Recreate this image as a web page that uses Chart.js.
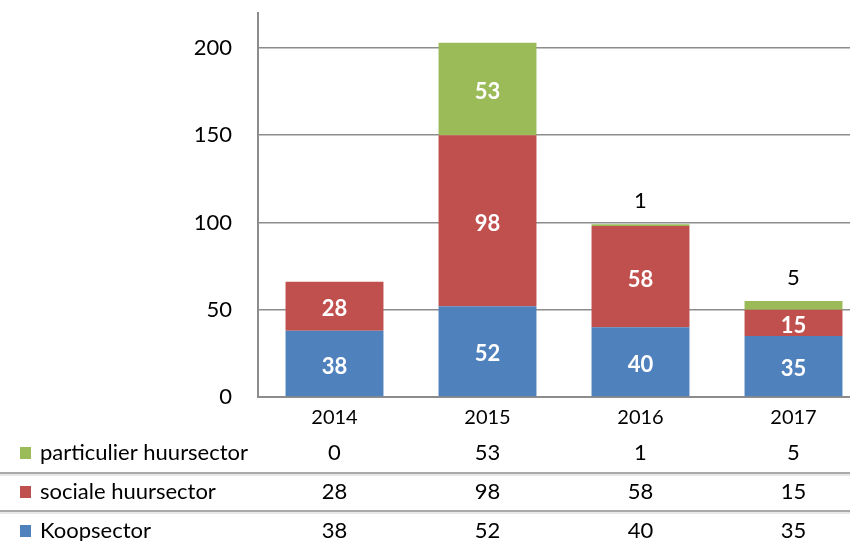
<!DOCTYPE html>
<html>
<head>
<meta charset="utf-8">
<script src="https://cdn.jsdelivr.net/npm/chart.js@4"></script>
<style>
  html, body { margin: 0; padding: 0; background: #fff; overflow: hidden; }
  #wrap { width: 870px; height: 541px; }
</style>
</head>
<body>
<div id="wrap"><canvas id="chart"></canvas></div>
<script>
const years = ['2014', '2015', '2016', '2017'];
const koopsector = [38, 52, 40, 35];
const socialeHuur = [28, 98, 58, 15];
const particulierHuur = [0, 53, 1, 5];

const seriesNames = ['Koopsector', 'sociale huursector', 'particulier huursector'];
const seriesColors = ['#4f81bd', '#c0504d', '#9bbb59'];

const fontFamily = 'Lato, "Open Sans", sans-serif';
const gridColor = '#8c8c8c';

// labels on the bars: white inside, black above for tiny segments
const barLabels = {
  id: 'barLabels',
  afterDatasetsDraw(chart) {
    const ctx = chart.ctx;
    ctx.save();
    ctx.textAlign = 'center';
    ctx.textBaseline = 'middle';
    chart.data.datasets.forEach((ds, di) => {
      const meta = chart.getDatasetMeta(di);
      meta.data.forEach((bar, i) => {
        const v = ds.data[i];
        if (!v) return;
        if (v < 10) {
          ctx.fillStyle = '#000';
          ctx.font = '22px ' + fontFamily;
          ctx.fillText(String(v), bar.x, bar.y - 23);
        } else {
          ctx.fillStyle = '#fff';
          ctx.font = 'bold 22px ' + fontFamily;
          ctx.fillText(String(v), bar.x, (bar.y + bar.base) / 2 + 3);
        }
      });
    });
    ctx.restore();
  }
};

// data table under the x axis
const dataTable = {
  id: 'dataTable',
  afterDraw(chart) {
    const ctx = chart.ctx;
    const x = chart.scales.x;
    const rows = [2, 1, 0];
    const rowY = [453, 492, 531];
    ctx.save();
    // separators
    [473, 511].forEach((y) => {
      ctx.strokeStyle = '#8c8c8c';
      ctx.lineWidth = 1.5;
      ctx.beginPath();
      ctx.moveTo(0, y);
      ctx.lineTo(chart.width, y);
      ctx.stroke();
      ctx.strokeStyle = '#d0d0d0';
      ctx.lineWidth = 1;
      ctx.beginPath();
      ctx.moveTo(0, y + 2);
      ctx.lineTo(chart.width, y + 2);
      ctx.stroke();
    });
    ctx.textBaseline = 'middle';
    ctx.font = '22px ' + fontFamily;
    rows.forEach((di, r) => {
      const y = rowY[r];
      ctx.fillStyle = seriesColors[di];
      ctx.fillRect(20, y - 6, 11, 12);
      ctx.fillStyle = '#000';
      ctx.textAlign = 'left';
      ctx.fillText(seriesNames[di], 40, y);
      ctx.textAlign = 'center';
      chart.data.datasets[di].data.forEach((v, i) => {
        ctx.fillText(String(v), x.getPixelForValue(i), y);
      });
    });
    ctx.restore();
  }
};

new Chart(document.getElementById('chart'), {
  type: 'bar',
  data: {
    labels: years,
    datasets: [
      { label: seriesNames[0], data: koopsector, backgroundColor: seriesColors[0] },
      { label: seriesNames[1], data: socialeHuur, backgroundColor: seriesColors[1] },
      { label: seriesNames[2], data: particulierHuur, backgroundColor: seriesColors[2] }
    ]
  },
  options: {
    responsive: true,
    maintainAspectRatio: false,
    animation: false,
    layout: { padding: { top: 13, left: 0, right: 0, bottom: 0 } },
    datasets: { bar: { barPercentage: 0.64, categoryPercentage: 1 } },
    plugins: {
      legend: { display: false },
      tooltip: { enabled: false }
    },
    scales: {
      x: {
        stacked: true,
        grid: { display: false },
        border: { display: true, color: gridColor, width: 2 },
        ticks: { color: '#000', font: { family: fontFamily, size: 20 }, padding: 1 },
        afterFit(scale) { scale.height = 144; }
      },
      y: {
        stacked: true,
        min: 0,
        max: 220,
        grid: { color: gridColor, lineWidth: 1.5, drawTicks: false },
        border: { display: true, color: gridColor, width: 2 },
        ticks: {
          stepSize: 50,
          includeBounds: false,
          color: '#000',
          padding: 26,
          font: { family: fontFamily, size: 22 }
        },
        afterFit(scale) {
          scale.width = 258;
          scale.paddingTop = 0;
          scale.paddingBottom = 0;
        }
      }
    }
  },
  plugins: [barLabels, dataTable]
});
</script>
</body>
</html>
